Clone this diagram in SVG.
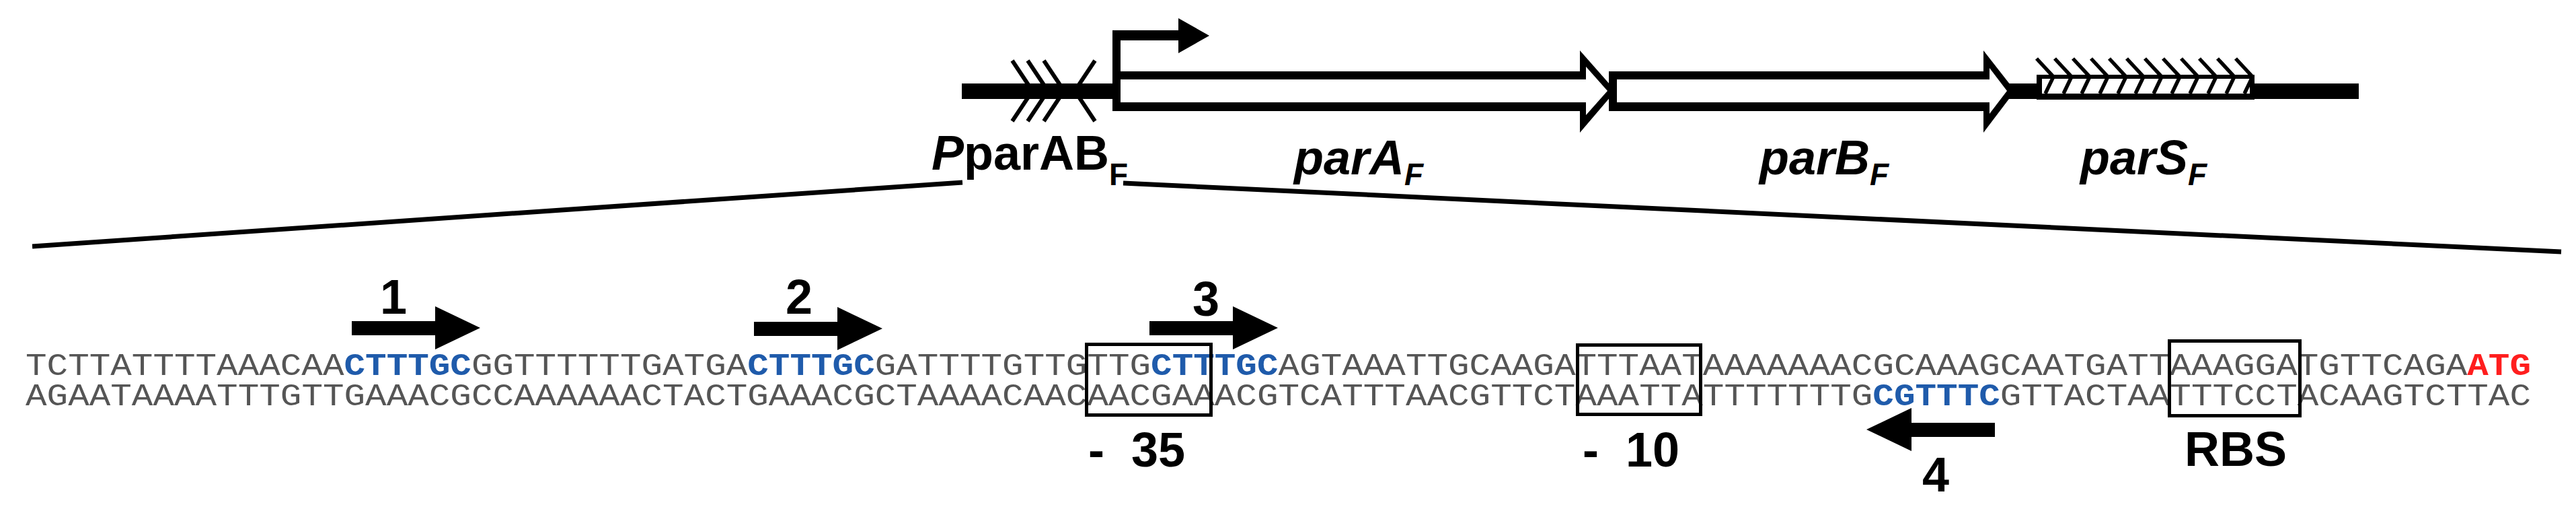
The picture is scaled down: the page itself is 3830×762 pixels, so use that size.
<svg xmlns="http://www.w3.org/2000/svg" xmlns:xlink="http://www.w3.org/1999/xlink" width="3830" height="762" viewBox="0 0 3830 762">
<style>
.lbl{font-family:"Liberation Sans",Arial,sans-serif;font-weight:bold;font-size:72px;fill:#000}
.gene{font-style:italic}
.sub{font-size:46px}
.seq{font-family:"Liberation Mono","Courier New",monospace;font-size:46px;fill:#555}
.bl{fill:#1f5bab;font-weight:bold}
.rd{fill:#ff1e1e;font-weight:bold}
.box{fill:none;stroke:#000;stroke-width:5}
.chev{fill:none;stroke:#000;stroke-width:6}
.hatch{fill:none;stroke:#000;stroke-width:5.5}
.conn{stroke:#000;stroke-width:7;fill:none}
</style>
<defs>
<path id="rarrow" d="M0,22 H124 V0 L191,32 L124,64 V43 H0 Z" fill="#000"/>
</defs>
<rect width="3830" height="762" fill="#fff"/>

<g id="genemap">
  <rect id="dna-left" x="1430" y="124" width="230" height="23" fill="#000"/>
  <rect id="dna-right" x="2980" y="124" width="527" height="23" fill="#000"/>
  <g id="inverted-repeats">
    <polyline class="chev" points="1505,90 1535,135 1505,180"/>
    <polyline class="chev" points="1528,90 1558,135 1528,180"/>
    <polyline class="chev" points="1552,90 1582,135 1552,180"/>
    <polyline class="chev" points="1628,90 1598,135 1628,180"/>
  </g>
  <g id="parB">
    <path d="M2392,106 H2949 V75 L2996,135 L2949,197 V165 H2392 Z" fill="#000"/>
    <path d="M2404,118 H2958 V101 L2984,135 L2958,169 V152 H2404 Z" fill="#fff"/>
  </g>
  <g id="parA">
    <path d="M1654,106 H2349 V75 L2402,135 L2349,197 V165 H1654 Z" fill="#000"/>
    <path d="M1666,118 H2358 V99 L2390,135 L2358,171 V152 H1666 Z" fill="#fff"/>
  </g>
  <g id="promoter-arrow">
    <rect x="1654" y="45" width="12" height="120" fill="#000"/>
    <rect x="1654" y="45" width="101" height="15" fill="#000"/>
    <polygon points="1752,27 1798,53 1752,79" fill="#000"/>
  </g>
  <g id="parS">
    <rect x="3028" y="111" width="324" height="37" fill="#000"/>
    <rect x="3036" y="117" width="309" height="22" fill="#fff"/>
    <polyline class="hatch" points="3028,87 3053,114 3041,139"/>
    <polyline class="hatch" points="3055,87 3080,114 3068,139"/>
    <polyline class="hatch" points="3082,87 3107,114 3095,139"/>
    <polyline class="hatch" points="3109,87 3134,114 3122,139"/>
    <polyline class="hatch" points="3136,87 3161,114 3149,139"/>
    <polyline class="hatch" points="3162,87 3187,114 3175,139"/>
    <polyline class="hatch" points="3189,87 3214,114 3202,139"/>
    <polyline class="hatch" points="3216,87 3241,114 3229,139"/>
    <polyline class="hatch" points="3243,87 3268,114 3256,139"/>
    <polyline class="hatch" points="3270,87 3295,114 3283,139"/>
    <polyline class="hatch" points="3297,87 3322,114 3310,139"/>
    <polyline class="hatch" points="3324,87 3349,114 3337,139"/>
  </g>
  <text id="label-PparAB" class="lbl" x="1385" y="252"><tspan font-style="italic">P</tspan>parAB<tspan class="sub" dy="23">F</tspan></text>
  <text id="label-parA" class="lbl gene" x="1924" y="259">parA<tspan class="sub" dy="16">F</tspan></text>
  <text id="label-parB" class="lbl gene" x="2616" y="259">parB<tspan class="sub" dy="16">F</tspan></text>
  <text id="label-parS" class="lbl gene" x="3093" y="259">parS<tspan class="sub" dy="16">F</tspan></text>
</g>

<g id="connectors">
  <line class="conn" x1="48" y1="366" x2="1431" y2="271"/>
  <line class="conn" x1="1670" y1="272" x2="3808" y2="374"/>
</g>

<g id="sequence">
  <text class="seq" x="38" y="557" textLength="3725" lengthAdjust="spacingAndGlyphs">TCTTATTTTAAACAA<tspan class="bl">CTTTGC</tspan>GGTTTTTTGATGA<tspan class="bl">CTTTGC</tspan>GATTTTGTTGTTG<tspan class="bl">CTTTGC</tspan>AGTAAATTGCAAGATTTAATAAAAAAACGCAAAGCAATGATTAAAGGATGTTCAGA<tspan class="rd">ATG</tspan></text>
  <text class="seq" x="38" y="602" textLength="3725" lengthAdjust="spacingAndGlyphs">AGAATAAAATTTGTTGAAACGCCAAAAAACTACTGAAACGCTAAAACAACAACGAAACGTCATTTAACGTTCTAAATTATTTTTTTG<tspan class="bl">CGTTTC</tspan>GTTACTAATTTCCTACAAGTCTTAC</text>
</g>

<g id="site-1">
  <use xlink:href="#rarrow" href="#rarrow" x="523" y="455"/>
  <text class="lbl" x="585" y="466" text-anchor="middle">1</text>
</g>
<g id="site-2">
  <use xlink:href="#rarrow" href="#rarrow" x="1121" y="456"/>
  <text class="lbl" x="1188" y="466" text-anchor="middle">2</text>
</g>
<g id="site-3">
  <use xlink:href="#rarrow" href="#rarrow" x="1709" y="455"/>
  <text class="lbl" x="1793" y="469" text-anchor="middle">3</text>
</g>
<g id="site-4">
  <use xlink:href="#rarrow" href="#rarrow" transform="translate(2966,606) scale(-1,1)"/>
  <text class="lbl" x="2878" y="730" text-anchor="middle">4</text>
</g>

<g id="box-35">
  <rect class="box" x="1615.5" y="511.5" width="185" height="105"/>
  <text class="lbl" x="1618" y="693">- <tspan dx="20">35</tspan></text>
</g>
<g id="box-10">
  <rect class="box" x="2345.5" y="512.5" width="183" height="103"/>
  <text class="lbl" x="2353" y="693">- <tspan dx="20">10</tspan></text>
</g>
<g id="box-RBS">
  <rect class="box" x="3225.5" y="506.5" width="194" height="111"/>
  <text class="lbl" x="3324" y="692" text-anchor="middle">RBS</text>
</g>
</svg>
